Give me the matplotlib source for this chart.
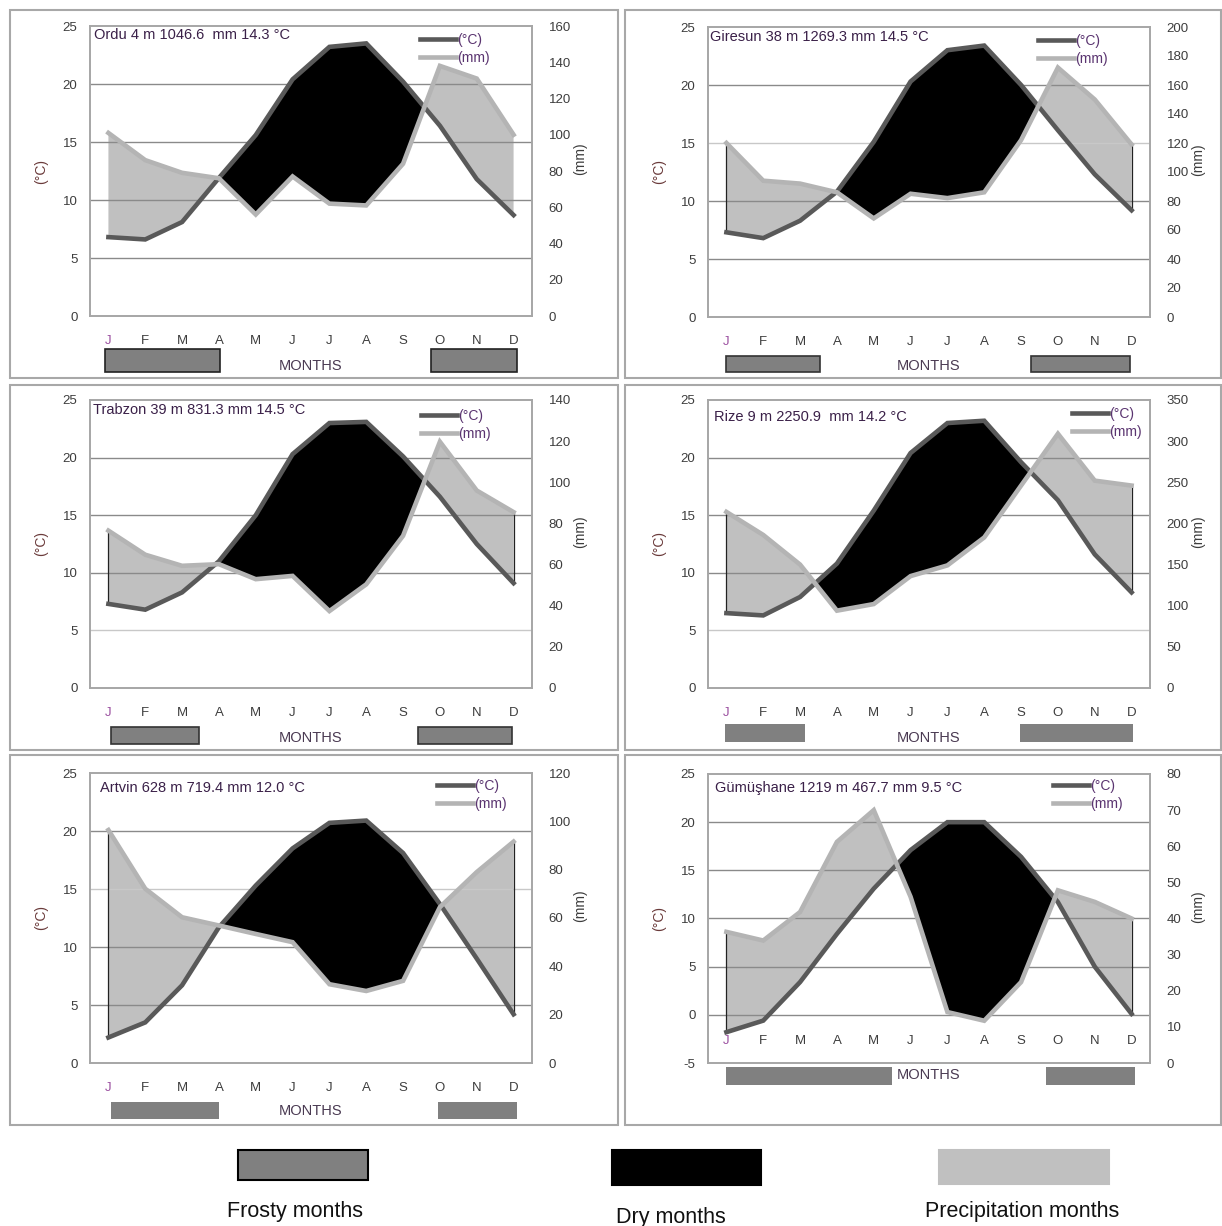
import matplotlib
matplotlib.use("Agg")
import matplotlib.pyplot as plt
from matplotlib.patches import Rectangle
import numpy as np

W, H = 1222, 1226
plt.rcParams['font.family'] = ['Liberation Sans', 'DejaVu Sans']
plt.rcParams['axes.unicode_minus'] = False

months = ["J", "F", "M", "A", "M", "J", "J", "A", "S", "O", "N", "D"]

titles = ["Ordu 4 m 1046.6  mm 14.3 °C",
          "Giresun 38 m 1269.3 mm 14.5 °C",
          "Trabzon 39 m 831.3 mm 14.5 °C",
          "Rize 9 m 2250.9  mm 14.2 °C",
          "Artvin 628 m 719.4 mm 12.0 °C",
          "Gümüşhane 1219 m 467.7 mm 9.5 °C"]

ordu_temp = [6.8, 6.6, 8.1, 11.9, 15.6, 20.4, 23.2, 23.5, 20.2, 16.4, 11.8, 8.7]
ordu_prec = [101, 86, 79, 76, 56, 77, 62, 61, 84, 138, 131, 100]
giresun_temp = [7.3, 6.8, 8.3, 10.8, 15.1, 20.3, 23.0, 23.4, 20.0, 16.1, 12.3, 9.2]
giresun_prec = [120, 94, 92, 86, 68, 85, 82, 86, 122, 172, 150, 119]
trabzon_temp = [7.3, 6.8, 8.3, 11.0, 15.0, 20.3, 23.0, 23.1, 20.1, 16.6, 12.5, 9.1]
trabzon_prec = [76.5, 64.8, 59.4, 60.2, 52.9, 54.5, 37.4, 50.4, 74.0, 119.7, 96.0, 85.5]
rize_temp = [6.5, 6.3, 7.9, 10.8, 15.4, 20.4, 23.0, 23.2, 19.6, 16.3, 11.6, 8.3]
rize_prec = [214, 186, 150, 94, 102, 136, 149, 183, 246, 309, 252, 246]
artvin_temp = [2.2, 3.5, 6.7, 11.7, 15.3, 18.5, 20.7, 20.9, 18.1, 13.7, 9.0, 4.2]
artvin_prec = [96.4, 72.1, 60.3, 56.9, 53.4, 50.0, 32.6, 29.8, 34.0, 64.5, 79.0, 91.6]
gumushane_temp = [-1.8, -0.6, 3.4, 8.4, 13.1, 17.1, 20.0, 20.0, 16.4, 11.7, 5.0, 0.1]
gumushane_prec = [36.3, 33.9, 41.8, 61.2, 70.0, 46.0, 14.1, 11.7, 22.4, 47.8, 44.6, 40.0]

temps = [ordu_temp, giresun_temp, trabzon_temp, rize_temp, artvin_temp, gumushane_temp]
precs = [ordu_prec, giresun_prec, trabzon_prec, rize_prec, artvin_prec, gumushane_prec]

temp_min = [0, 0, 0, 0, 0, -5]
prec_max = [160, 200, 140, 350, 120, 80]
prec_step = [20, 20, 20, 50, 20, 10]

# frosty month ranges (in month index units)
frost = [[(-0.09, 3.03), (8.77, 11.08)],
         [(-0.01, 2.54), (8.26, 10.95)],
         [(0.06, 2.46), (8.41, 10.95)],
         [(-0.04, 2.14), (7.97, 11.05)],
         [(0.06, 2.99), (8.94, 11.09)],
         [(-0.01, 4.5), (8.68, 11.1)]]

# layout in pixels
frames = [(10, 10, 618, 378), (625, 10, 1221, 378), (10, 385, 618, 750),
          (625, 385, 1221, 750), (10, 755, 618, 1125), (625, 755, 1221, 1125)]
axes_px = [(90, 26, 532, 316), (708, 27, 1150, 317), (90, 400, 532, 688),
           (708, 400, 1150, 688), (90, 773, 532, 1063), (708, 774, 1150, 1063)]
title_px = [(94, 35), (710, 37), (93, 410), (714, 417), (100, 788), (715, 788)]
legend_px = [(420, 41), (1038, 42), (421, 417), (1072, 415), (437, 787), (1053, 787)]
frost_off = [(33, 56), (39, 55), (39, 56), (36, 54), (39, 56), (4, 22)]
months_off = [50, 49, 50, 50, 48, 12]
frost_edge = ['#222222', '#333333', '#333333', 'none', 'none', 'none']
light_grid = [[], [15], [5], [5], [15], []]

TEMP_C = '#595959'
PREC_C = '#b4b4b4'
TXT = '#3d3d3d'


def fx(x):
    return x / W


def fy(y):
    return 1 - y / H


fig = plt.figure(figsize=(W / 100, H / 100), dpi=100)

for i in range(6):
    l, t, r, b = frames[i]
    fig.add_artist(Rectangle((fx(l), fy(b)), fx(r - l), (b - t) / H, transform=fig.transFigure,
                             fill=False, edgecolor='#a8a8a8', lw=1.5))

    l, t, r, b = axes_px[i]
    ax = fig.add_axes([fx(l), fy(b), fx(r - l), (b - t) / H])
    ax2 = ax.twinx()
    ylo, yhi = temp_min[i], 25
    pm = prec_max[i]
    x = np.arange(12)
    T = np.array(temps[i], dtype=float)
    P = np.array(precs[i], dtype=float)
    Pt = ylo + P / pm * (yhi - ylo)

    ax.fill_between(x, T, Pt, where=Pt >= T, interpolate=True, color='#c0c0c0', lw=0, zorder=1)
    for g in range(ylo + 5, 25, 5):
        ax.axhline(g, color='#c8c8c8' if g in light_grid[i] else '#8a8a8a', lw=1, zorder=1.2)
    ax.fill_between(x, T, Pt, where=T >= Pt, interpolate=True, color='black', lw=0, zorder=1.5)
    if i > 0:
        ax.vlines([0, 11], [T[0], T[11]], [Pt[0], Pt[11]], color='#222222', lw=0.9, zorder=1.6)

    lt, = ax.plot(x, T, color=TEMP_C, lw=3.3, solid_joinstyle='miter', zorder=3, label='(°C)')
    lp, = ax2.plot(x, P, color=PREC_C, lw=3.3, solid_joinstyle='miter', zorder=3, label='(mm)')

    ax.set_xlim(-0.5, 11.5)
    ax.set_ylim(ylo, yhi)
    ax2.set_ylim(0, pm)
    ax.set_xticks([])
    ax.set_yticks(range(ylo, 26, 5))
    ax2.set_yticks(range(0, pm + 1, prec_step[i]))
    ax.tick_params(axis='y', length=0, pad=9, labelsize=9.5, labelcolor=TXT)
    ax2.tick_params(axis='y', length=0, pad=12, labelsize=9.5, labelcolor=TXT)
    for a in (ax, ax2):
        for s in a.spines.values():
            s.set_color('#a6a6a6')
            s.set_linewidth(1.2)

    ppu = (b - t) / (yhi - ylo)
    for k, m in enumerate(months):
        ax.text(k, ylo - 25 / ppu if i < 5 else 0 - 26 / ppu, m, ha='center', va='center',
                fontsize=9.5, color='#9b4fa0' if k == 0 else TXT, clip_on=False)
    o1, o2 = frost_off[i]
    for x0, x1 in frost[i]:
        ax.add_patch(Rectangle((x0, ylo - o2 / ppu), x1 - x0, (o2 - o1) / ppu, facecolor='#808080',
                               edgecolor=frost_edge[i], lw=1.2, clip_on=False))
    ax.text(5.5, ylo - months_off[i] / ppu, "MONTHS", ha='center', va='center', fontsize=10.5,
            color='#4a3a52', clip_on=False)

    ax.legend(handles=[lt, lp], loc='upper left',
              bbox_to_anchor=((legend_px[i][0] - l) / (r - l), 1 - (legend_px[i][1] - 8 - t) / (b - t)),
              frameon=False, fontsize=10, handlelength=2.6, handletextpad=0.05, labelspacing=0.3,
              borderpad=0, borderaxespad=0, labelcolor='#5a3470')

    tx, ty = title_px[i]
    fig.text(fx(tx), fy(ty), titles[i], ha='left', va='center', fontsize=10.5, color='#3a2048')
    fig.text(fx(l - 49), fy((t + b) / 2), "(°C)", rotation=90, ha='center', va='center',
             fontsize=10, color='#6a3a3a')
    fig.text(fx(r + 48), fy((t + b) / 2 - 12), "(mm)", rotation=90, ha='center', va='center',
             fontsize=10, color=TXT)

# bottom legend
legend_boxes = [(238, 1150, 368, 1180, '#808080', 'black'),
                (612, 1150, 761, 1185, 'black', 'black'),
                (939, 1150, 1109, 1184, '#c0c0c0', '#c0c0c0')]
legend_text = [("Frosty months", 295, 1212), ("Dry months", 671, 1217), ("Precipitation months", 1022, 1212)]
for x0, y0, x1, y1, fc, ec in legend_boxes:
    fig.add_artist(Rectangle((fx(x0), fy(y1)), fx(x1 - x0), (y1 - y0) / H, transform=fig.transFigure,
                             facecolor=fc, edgecolor=ec, lw=1.5))
for s, x0, y0 in legend_text:
    fig.text(fx(x0), fy(y0), s, ha='center', va='center', fontsize=15.5, color='#111111')

fig.savefig("out.png", dpi=100)
